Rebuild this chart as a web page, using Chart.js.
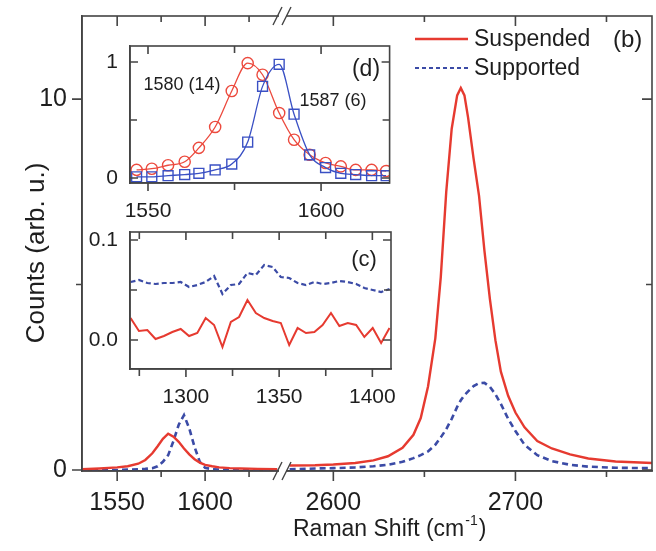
<!DOCTYPE html>
<html>
<head>
<meta charset="utf-8">
<script src="https://cdn.jsdelivr.net/npm/chart.js@4.4.0/dist/chart.umd.min.js"></script>
<style>
  html, body { margin: 0; padding: 0; background: #fff; }
  #wrap { position: relative; width: 656px; height: 551px; }
  #mainChart { position: absolute; left: 0; top: 0; }
  #insetD { position: absolute; left: 80px; top: 36px; }
  #insetC { position: absolute; left: 80px; top: 222px; }
</style>
</head>
<body>
<div id="wrap">
  <canvas id="mainChart" width="656" height="551"></canvas>
  <canvas id="insetD" width="318" height="190"></canvas>
  <canvas id="insetC" width="318" height="190"></canvas>
</div>
<script>
// G band, main panel (left of the axis break)
const gShift = [1530, 1540, 1550, 1556, 1562, 1566, 1570, 1573, 1576, 1579, 1582, 1585, 1588, 1591, 1594, 1597, 1600, 1604, 1608, 1614, 1620, 1630, 1641];
const gSuspended = [0.02, 0.04, 0.07, 0.10, 0.17, 0.27, 0.45, 0.64, 0.84, 0.98, 0.90, 0.76, 0.58, 0.42, 0.29, 0.20, 0.14, 0.10, 0.07, 0.05, 0.04, 0.03, 0.02];
const gSupported = [0, 0, 0, 0.01, 0.02, 0.03, 0.05, 0.10, 0.22, 0.40, 0.78, 1.22, 1.48, 1.12, 0.62, 0.22, 0.06, 0.02, 0.01, 0, 0, 0, 0];

// 2D band, main panel (right of the axis break)
const dShift = [2576, 2590, 2600, 2612, 2622, 2630, 2638, 2644, 2648, 2652, 2656, 2659, 2662, 2665, 2668, 2670, 2672, 2674, 2677, 2680, 2683, 2686, 2689, 2692, 2696, 2700, 2705, 2712, 2720, 2730, 2740, 2755, 2775];
const dSuspended = [0.12, 0.13, 0.15, 0.19, 0.26, 0.37, 0.60, 0.95, 1.40, 2.25, 3.55, 5.2, 7.5, 9.2, 10.1, 10.3, 10.1, 9.5, 8.4, 7.4, 5.9, 4.6, 3.5, 2.65, 2.0, 1.55, 1.15, 0.78, 0.58, 0.42, 0.31, 0.23, 0.19];
const dSupported = [0.02, 0.04, 0.05, 0.07, 0.10, 0.14, 0.22, 0.32, 0.40, 0.50, 0.68, 0.88, 1.10, 1.38, 1.70, 1.88, 2.02, 2.12, 2.26, 2.34, 2.35, 2.24, 2.04, 1.78, 1.38, 1.05, 0.68, 0.40, 0.24, 0.14, 0.09, 0.06, 0.05];

// inset (d): normalised G band
const nShift = [1546.7, 1551.1, 1555.8, 1560.6, 1564.7, 1569.4, 1574.2, 1578.8, 1583.1, 1587.9, 1592.2, 1596.7, 1601.3, 1605.7, 1610.0, 1614.6, 1618.8];
const nSuspended = [0.07, 0.08, 0.11, 0.14, 0.26, 0.44, 0.75, 0.99, 0.89, 0.56, 0.33, 0.20, 0.13, 0.10, 0.07, 0.07, 0.06];
const nSupported = [0.01, 0.01, 0.02, 0.03, 0.04, 0.07, 0.12, 0.31, 0.79, 0.98, 0.55, 0.20, 0.09, 0.04, 0.03, 0.02, 0.02];

// inset (c): D band region
const dbShift = [1270.3, 1274.8, 1279.3, 1283.7, 1288.2, 1292.7, 1297.2, 1301.7, 1306.1, 1310.6, 1315.1, 1319.6, 1324.1, 1328.5, 1333.0, 1337.5, 1342.0, 1346.5, 1350.9, 1355.4, 1359.9, 1364.4, 1368.9, 1373.3, 1377.8, 1382.3, 1386.8, 1391.3, 1395.7, 1400.2, 1404.7, 1409.2];
const dbSuspended = [0.022, 0.009, 0.010, 0.001, 0.004, 0.008, 0.011, 0.004, 0.007, 0.022, 0.015, -0.007, 0.018, 0.023, 0.040, 0.027, 0.022, 0.019, 0.017, -0.005, 0.012, 0.007, 0.008, 0.015, 0.027, 0.014, 0.017, 0.015, 0.003, 0.012, -0.003, 0.012];
const dbSupported = [0.058, 0.060, 0.057, 0.056, 0.057, 0.057, 0.058, 0.053, 0.055, 0.058, 0.064, 0.046, 0.055, 0.056, 0.067, 0.065, 0.075, 0.073, 0.063, 0.062, 0.057, 0.055, 0.058, 0.056, 0.057, 0.059, 0.058, 0.056, 0.052, 0.050, 0.048, 0.051];

// tick positions and labelled ticks
const gTicks = [1550, 1575, 1600, 1625];
const gLabels = [1550, 1600];
const dTicks = [2600, 2650, 2700, 2750];
const dLabels = [2600, 2700];
const countTicks = [0, 5, 10];
const countLabels = [0, 10];
const nShiftTicks = [1550, 1575, 1600];
const nShiftLabels = [1550, 1600];
const nTicks = [0, 0.5, 1];
const nLabels = [0, 1];
const dbShiftTicks = [1275, 1300, 1325, 1350, 1375, 1400];
const dbShiftLabels = [1300, 1350, 1400];
const dbTicks = [0, 0.05, 0.1];
const dbLabels = [0, 0.1];

const FONT = "'Liberation Sans', Arial, Helvetica, sans-serif";
const AXIS = '#444444';
const TEXT = '#1e1e1e';
const RED = '#e63a30';
const BLUE = '#3b4ba6';
const RED_INSET = '#ec4a3e';
const BLUE_INSET = '#3a50c4';

Chart.defaults.font.family = FONT;
Chart.defaults.color = TEXT;

function pairs(xs, ys) {
    return xs.map((x, i) => ({ x: x, y: ys[i] }));
}

function fixedTicks(values) {
    return function (scale) {
        scale.ticks = values.map(v => ({ value: v }));
    };
}

function labelOnly(shown, digits) {
    return v => (shown.indexOf(v) >= 0 ? (digits ? v.toFixed(digits) : String(v)) : '');
}

function fixedSize(w, h) {
    return function (scale) {
        if (w !== null) scale.width = w;
        if (h !== null) scale.height = h;
        scale.paddingTop = 0;
        scale.paddingBottom = 0;
        scale.paddingLeft = 0;
        scale.paddingRight = 0;
    };
}

// frame round the plot area, tick marks on every side, and free text
const decorPlugin = {
    id: 'decor',
    afterDraw(chart, args, opts) {
        const ctx = chart.ctx;
        const a = chart.chartArea;
        ctx.save();
        ctx.strokeStyle = AXIS;
        ctx.lineWidth = 1.6;
        if (opts.frame) {
            ctx.strokeRect(a.left, a.top, a.right - a.left, a.bottom - a.top);
        }
        ctx.beginPath();
        (opts.marks || []).forEach(m => {
            const s = chart.scales[m.id];
            const sign = m.inward ? 1 : -1;
            s.ticks.forEach(t => {
                const len = m.major.indexOf(t.value) >= 0 ? opts.long : opts.short;
                const p = s.getPixelForValue(t.value);
                if (m.side === 'top') {
                    ctx.moveTo(p, a.top);
                    ctx.lineTo(p, a.top + sign * len);
                } else if (m.side === 'bottom') {
                    ctx.moveTo(p, a.bottom);
                    ctx.lineTo(p, a.bottom - sign * len);
                } else if (m.side === 'left') {
                    ctx.moveTo(a.left, p);
                    ctx.lineTo(a.left + sign * len, p);
                } else {
                    ctx.moveTo(a.right, p);
                    ctx.lineTo(a.right - sign * len, p);
                }
            });
        });
        ctx.stroke();
        (opts.notes || []).forEach(n => {
            ctx.font = n.size + 'px ' + FONT;
            ctx.fillStyle = TEXT;
            ctx.textAlign = n.align || 'left';
            ctx.textBaseline = 'middle';
            ctx.fillText(n.text, n.x, n.y);
        });
        ctx.restore();
    }
};

// axis break marks, legend and axis titles of the main panel
const mainExtras = {
    id: 'mainExtras',
    afterDraw(chart) {
        const ctx = chart.ctx;
        const a = chart.chartArea;
        ctx.save();

        // gap and double slash on the top and bottom axis lines
        [a.top, a.bottom].forEach(y => {
            ctx.fillStyle = '#fff';
            ctx.fillRect(279, y - 3, 7, 6);
            ctx.strokeStyle = AXIS;
            ctx.lineWidth = 1.4;
            ctx.beginPath();
            [277.5, 286.5].forEach(x => {
                ctx.moveTo(x - 4.5, y + 9);
                ctx.lineTo(x + 4.5, y - 9);
            });
            ctx.stroke();
        });

        // legend
        ctx.lineWidth = 2.4;
        ctx.strokeStyle = RED;
        ctx.beginPath();
        ctx.moveTo(415, 39);
        ctx.lineTo(468, 39);
        ctx.stroke();
        ctx.lineWidth = 1.8;
        ctx.strokeStyle = BLUE;
        ctx.setLineDash([4, 3]);
        ctx.beginPath();
        ctx.moveTo(415, 68);
        ctx.lineTo(468, 68);
        ctx.stroke();
        ctx.setLineDash([]);

        ctx.fillStyle = TEXT;
        ctx.textBaseline = 'middle';
        ctx.textAlign = 'left';
        ctx.font = '23px ' + FONT;
        ctx.fillText('Suspended', 474, 40);
        ctx.fillText('Supported', 474, 69);
        ctx.font = '24px ' + FONT;
        ctx.fillText('(b)', 613, 40);

        // x title with superscript
        ctx.textBaseline = 'alphabetic';
        let x = 293;
        const base = 536;
        ctx.font = '23px ' + FONT;
        ctx.fillText('Raman Shift (cm', x, base);
        x += ctx.measureText('Raman Shift (cm').width;
        ctx.font = '14px ' + FONT;
        ctx.fillText('-1', x + 1, base - 11);
        x += ctx.measureText('-1').width + 2;
        ctx.font = '23px ' + FONT;
        ctx.fillText(')', x, base);

        // y title
        ctx.translate(37, 253);
        ctx.rotate(-Math.PI / 2);
        ctx.textAlign = 'center';
        ctx.textBaseline = 'middle';
        ctx.font = '26px ' + FONT;
        ctx.fillText('Counts (arb. u.)', 0, 0);
        ctx.restore();
    }
};

// tick marks come from the decor plugin; the hidden grid keeps the label offset
const hiddenGrid = (len) => ({ display: false, drawOnChartArea: false, drawTicks: true, tickLength: len });

function shiftAxis(min, max, ticks, shown, weight) {
    return {
        type: 'linear',
        position: 'bottom',
        stack: 'shift',
        stackWeight: weight,
        min: min,
        max: max,
        afterBuildTicks: fixedTicks(ticks),
        afterFit: fixedSize(null, 80),
        ticks: {
            autoSkip: false,
            maxRotation: 0,
            minRotation: 0,
            padding: 7,
            font: { size: 25 },
            callback: labelOnly(shown)
        },
        grid: hiddenGrid(10),
        border: { color: AXIS, width: 1.6 }
    };
}

new Chart(document.getElementById('mainChart'), {
    type: 'line',
    data: {
        datasets: [
            { label: 'Suspended', xAxisID: 'xL', yAxisID: 'y', data: pairs(gShift, gSuspended), borderColor: RED, borderWidth: 2.4, pointRadius: 0, tension: 0 },
            { label: 'Supported', xAxisID: 'xL', yAxisID: 'y', data: pairs(gShift, gSupported), borderColor: BLUE, borderWidth: 2.6, borderDash: [6, 4], pointRadius: 0, tension: 0 },
            { label: 'Suspended', xAxisID: 'xR', yAxisID: 'y', data: pairs(dShift, dSuspended), borderColor: RED, borderWidth: 2.4, pointRadius: 0, tension: 0 },
            { label: 'Supported', xAxisID: 'xR', yAxisID: 'y', data: pairs(dShift, dSupported), borderColor: BLUE, borderWidth: 2.6, borderDash: [6, 4], pointRadius: 0, tension: 0 }
        ]
    },
    options: {
        responsive: false,
        animation: false,
        devicePixelRatio: 1,
        layout: { padding: { top: 16, right: 4, left: 0, bottom: 0 } },
        plugins: {
            legend: { display: false },
            tooltip: { enabled: false },
            decor: {
                frame: true, long: 10, short: 6,
                marks: [
                    { id: 'xL', side: 'bottom', inward: false, major: gLabels },
                    { id: 'xR', side: 'bottom', inward: false, major: dLabels },
                    { id: 'xL', side: 'top', inward: true, major: gLabels },
                    { id: 'xR', side: 'top', inward: true, major: dLabels },
                    { id: 'y', side: 'left', inward: false, major: countLabels },
                    { id: 'y', side: 'right', inward: true, major: countLabels }
                ]
            }
        },
        scales: {
            xL: shiftAxis(1530, 1646, gTicks, gLabels, 204),
            xR: shiftAxis(2574, 2775, dTicks, dLabels, 366),
            y: {
                type: 'linear',
                position: 'left',
                min: -0.027,
                max: 12.24,
                afterBuildTicks: fixedTicks(countTicks),
                afterFit: fixedSize(82, null),
                ticks: {
                    padding: 5,
                    font: { size: 25 },
                    callback: labelOnly(countLabels)
                },
                grid: hiddenGrid(10),
                border: { color: AXIS, width: 1.6 }
            }
        }
    },
    plugins: [decorPlugin, mainExtras]
});

function insetX(min, max, ticks, shown) {
    return {
        type: 'linear',
        position: 'bottom',
        min: min,
        max: max,
        afterBuildTicks: fixedTicks(ticks),
        afterFit: fixedSize(null, 43),
        ticks: {
            autoSkip: false,
            maxRotation: 0,
            minRotation: 0,
            padding: 9,
            font: { size: 21 },
            callback: labelOnly(shown)
        },
        grid: hiddenGrid(7),
        border: { color: AXIS, width: 1.6 }
    };
}

function insetY(min, max, ticks, shown, digits) {
    return {
        type: 'linear',
        position: 'left',
        min: min,
        max: max,
        afterBuildTicks: fixedTicks(ticks),
        afterFit: fixedSize(50, null),
        ticks: { padding: 12, font: { size: 21 }, callback: labelOnly(shown, digits) },
        grid: { display: false, drawTicks: false },
        border: { color: AXIS, width: 1.6 }
    };
}

function insetMarks(xMajor, yMajor) {
    return [
        { id: 'x', side: 'bottom', inward: false, major: xMajor },
        { id: 'x', side: 'top', inward: true, major: xMajor },
        { id: 'y', side: 'left', inward: true, major: yMajor },
        { id: 'y', side: 'right', inward: true, major: yMajor }
    ];
}

// inset (d)
new Chart(document.getElementById('insetD'), {
    type: 'line',
    data: {
        datasets: [
            { data: pairs(nShift, nSupported), borderColor: BLUE_INSET, borderWidth: 1.3, cubicInterpolationMode: 'monotone',
              pointStyle: 'rect', pointRadius: 7, pointBorderWidth: 1.4, pointBorderColor: BLUE_INSET, pointBackgroundColor: 'rgba(0,0,0,0)' },
            { data: pairs(nShift, nSuspended), borderColor: RED_INSET, borderWidth: 1.3, cubicInterpolationMode: 'monotone',
              pointStyle: 'circle', pointRadius: 5.6, pointBorderWidth: 1.4, pointBorderColor: RED_INSET, pointBackgroundColor: 'rgba(0,0,0,0)' }
        ]
    },
    options: {
        responsive: false,
        animation: false,
        devicePixelRatio: 1,
        layout: { padding: { top: 10, right: 7, left: 0, bottom: 0 } },
        plugins: {
            legend: { display: false },
            tooltip: { enabled: false },
            decor: {
                frame: true, long: 8, short: 7,
                marks: insetMarks(nShiftLabels, nLabels),
                notes: [
                    { text: '1580 (14)', x: 102, y: 49, size: 18, align: 'center' },
                    { text: '1587 (6)', x: 253, y: 65, size: 18, align: 'center' },
                    { text: '(d)', x: 286, y: 34, size: 23, align: 'center' }
                ]
            }
        },
        scales: {
            x: insetX(1544.8, 1619.8, nShiftTicks, nShiftLabels),
            y: insetY(-0.043, 1.138, nTicks, nLabels, 0)
        }
    },
    plugins: [decorPlugin]
});

// inset (c)
new Chart(document.getElementById('insetC'), {
    type: 'line',
    data: {
        datasets: [
            { data: pairs(dbShift, dbSupported), borderColor: BLUE, borderWidth: 2.2, borderDash: [5, 3], pointRadius: 0, tension: 0 },
            { data: pairs(dbShift, dbSuspended), borderColor: RED, borderWidth: 2, pointRadius: 0, tension: 0 }
        ]
    },
    options: {
        responsive: false,
        animation: false,
        devicePixelRatio: 1,
        layout: { padding: { top: 10, right: 7, left: 0, bottom: 0 } },
        plugins: {
            legend: { display: false },
            tooltip: { enabled: false },
            decor: {
                frame: true, long: 8, short: 7,
                marks: insetMarks(dbShiftLabels, dbLabels),
                notes: [{ text: '(c)', x: 284, y: 38, size: 22, align: 'center' }]
            }
        },
        scales: {
            x: insetX(1270, 1410, dbShiftTicks, dbShiftLabels),
            y: insetY(-0.029, 0.108, dbTicks, dbLabels, 1)
        }
    },
    plugins: [decorPlugin]
});
</script>
</body>
</html>
